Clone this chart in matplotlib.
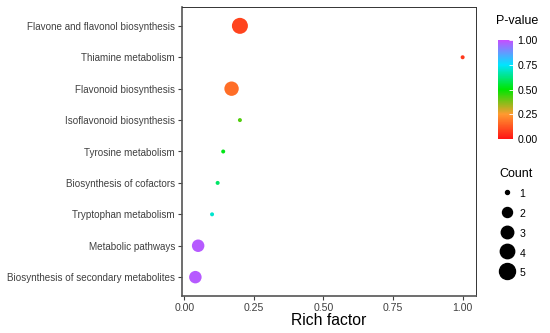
import numpy as np
import matplotlib
matplotlib.use("Agg")
import matplotlib.pyplot as plt
from matplotlib.colors import LinearSegmentedColormap, Normalize
from matplotlib.cm import ScalarMappable
from matplotlib.lines import Line2D

plt.rcParams['font.family'] = ['Liberation Sans', 'DejaVu Sans']

# pathways, listed top to bottom as in the chart
pathways = [
    "Flavone and flavonol biosynthesis",
    "Thiamine metabolism",
    "Flavonoid biosynthesis",
    "Isoflavonoid biosynthesis",
    "Tyrosine metabolism",
    "Biosynthesis of cofactors",
    "Tryptophan metabolism",
    "Metabolic pathways",
    "Biosynthesis of secondary metabolites",
]
rich_factor = [0.20, 1.00, 0.17, 0.20, 0.14, 0.12, 0.10, 0.05, 0.04]
counts = [5, 1, 4, 1, 1, 1, 1, 3, 3]
pvalues = [0.09, 0.07, 0.17, 0.42, 0.52, 0.60, 0.70, 0.98, 0.98]

legend_counts = [1, 2, 3, 4, 5]
cbar_ticks = [0.00, 0.25, 0.50, 0.75, 1.00]

cmap = LinearSegmentedColormap.from_list(
    "pval", [(0.0, "#FF1414"), (0.25, "#FF9A30"), (0.5, "#00E600"),
             (0.75, "#00E5FF"), (1.0, "#C64EFF")])
norm = Normalize(0, 1)

DPI = 100


def diam_pts(c):
    # ggplot-like area scaling: diameter 4px..16px over counts 1..5
    px = 4 + 12 * np.sqrt((np.asarray(c, float) - 1) / 4)
    return px * 72 / DPI


fig = plt.figure(figsize=(5.5, 3.33), dpi=DPI)
ax = fig.add_axes([182 / 550, 1 - 296 / 333, (476 - 182) / 550, (296 - 7) / 333])

ypos = np.arange(len(pathways))[::-1] + 1
ax.scatter(rich_factor, ypos, s=diam_pts(counts) ** 2,
           c=cmap(norm(pvalues)), edgecolors="none", zorder=3)

ax.set_yticks(ypos)
ax.set_yticklabels(pathways)
ax.set_ylim(0.4, len(pathways) + 0.6)
xmin, xmax = min(rich_factor), max(rich_factor)
pad = (xmax - xmin) * 0.05
ax.set_xlim(xmin - pad, xmax + pad)
ax.set_xticks(cbar_ticks)
ax.set_xticklabels([f"{t:.2f}" for t in cbar_ticks])
ax.set_xlabel("Rich factor", fontsize=11.3, color="black", labelpad=0)

ax.tick_params(axis="y", labelsize=7.1, colors="#404040", length=3, width=0.8, pad=2)
ax.tick_params(axis="x", labelsize=7.6, colors="#404040", length=3, width=0.8, pad=2)
for side in ["left", "bottom"]:
    ax.spines[side].set_linewidth(1.2)
    ax.spines[side].set_color("#555555")
for side in ["top", "right"]:
    ax.spines[side].set_linewidth(0.7)
    ax.spines[side].set_color("#333333")

# colour bar for P-value
cax = fig.add_axes([498 / 550, 1 - 139 / 333, 15 / 550, 99 / 333])
cb = fig.colorbar(ScalarMappable(norm=norm, cmap=cmap), cax=cax, ticks=cbar_ticks)
cb.outline.set_visible(False)
cb.ax.set_yticklabels([f"{t:.2f}" for t in cbar_ticks])
cb.ax.tick_params(labelsize=7.6, colors="white", labelcolor="black", length=3,
                  width=0.6, direction="in", pad=3)
fig.text(496 / 550, 1 - 21 / 333, "P-value", fontsize=9, va="center", ha="left")

# size legend for Count
handles = [Line2D([], [], ls="none", marker="o", color="black",
                  markersize=float(diam_pts(c))) for c in legend_counts]
leg = fig.legend(handles, [str(c) for c in legend_counts], title="Count",
                 loc="upper left", bbox_to_anchor=(494 / 550, 1 - 163 / 333),
                 frameon=False, fontsize=7.6, title_fontsize=9,
                 handletextpad=0.5, labelspacing=0.6, handleheight=1.6,
                 borderpad=0, handlelength=1.4)
leg._legend_box.align = "left"

fig.savefig("out.png", dpi=DPI)
